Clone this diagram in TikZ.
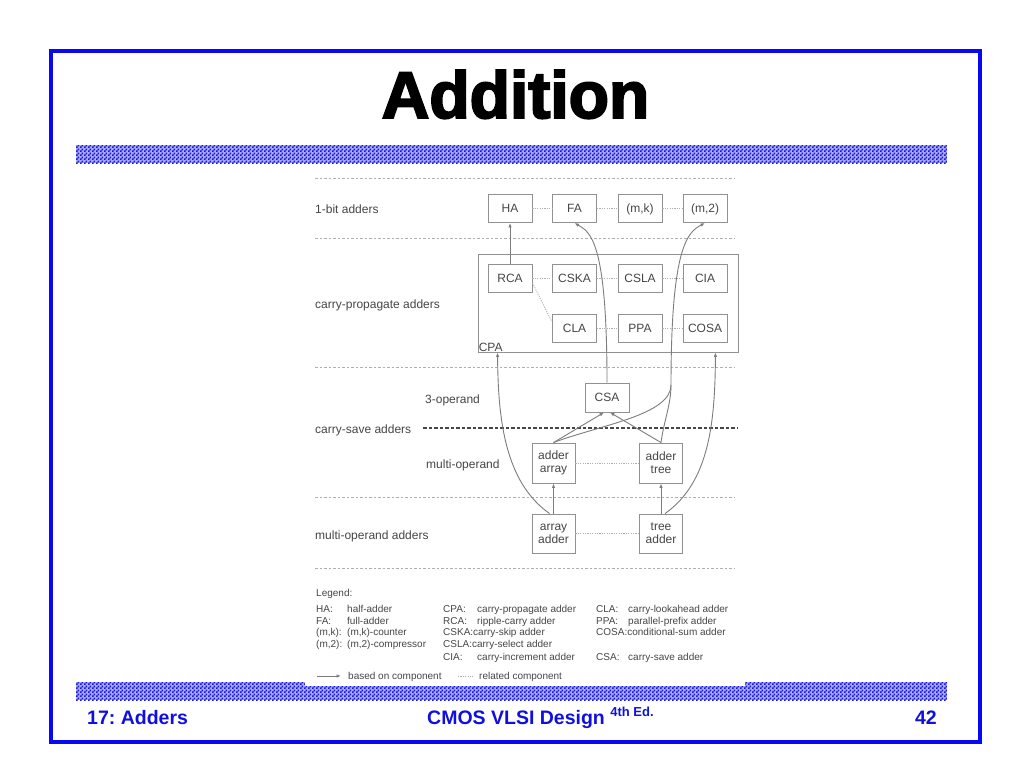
\documentclass[tikz,border=0pt]{standalone}
\usepackage{fontspec}
\setmainfont{Liberation Sans}
\newfontfamily\titlefont[FakeBold=3]{Liberation Sans Bold}
\usetikzlibrary{arrows.meta,patterns}
\frenchspacing
\definecolor{slideblue}{RGB}{8,8,245}
\definecolor{barblue}{RGB}{20,20,230}
\definecolor{barback}{RGB}{170,170,245}
\definecolor{footblue}{RGB}{15,15,225}
\definecolor{txtgray}{RGB}{70,70,70}
\definecolor{boxgray}{RGB}{145,145,145}
\definecolor{linegray}{RGB}{125,125,125}
\definecolor{relgray}{RGB}{175,175,175}
\definecolor{sepgray}{RGB}{175,175,175}
\pgfdeclarepatternformonly{finecheck}{\pgfpointorigin}{\pgfqpoint{4pt}{4pt}}{\pgfqpoint{4pt}{4pt}}%
{\pgfpathrectangle{\pgfpointorigin}{\pgfqpoint{2pt}{2pt}}%
 \pgfpathrectangle{\pgfqpoint{2pt}{2pt}}{\pgfqpoint{2pt}{2pt}}%
 \pgfusepath{fill}}
\tikzset{
  boxbase/.style={draw=boxgray, line width=0.9pt, fill=white, inner sep=0pt, align=center,
    text=txtgray, font=\fontsize{12}{13}\selectfont},
  box/.style={boxbase, minimum width=44pt, minimum height=28pt, text height=8.6pt, text depth=0pt},
  tallbox/.style={boxbase, minimum width=43pt, minimum height=40pt},
  lbl/.style={anchor=base west, inner sep=0pt, text=txtgray, font=\fontsize{12}{13}\selectfont},
  leg/.style={anchor=base west, inner sep=0pt, text=txtgray, font=\fontsize{10}{11}\selectfont},
  based/.style={draw=linegray, line width=0.9pt, -{Latex[length=4.5pt,width=3.5pt]}},
  plainline/.style={draw=linegray, line width=0.9pt},
  rel/.style={draw=relgray, line width=0.8pt, dash pattern=on 1.2pt off 1.2pt},
  sep/.style={draw=sepgray, line width=0.8pt, dash pattern=on 2.5pt off 2pt},
  thicksep/.style={draw=txtgray, line width=1.6pt, dash pattern=on 3.5pt off 2pt},
  barfill/.style={fill=barback},
  bar/.style={pattern=finecheck, pattern color=barblue},
  foot/.style={inner sep=0pt, text=footblue, font=\fontsize{19.5}{20}\selectfont\bfseries},
}
\begin{document}
\begin{tikzpicture}[x=1pt,y=-1pt]
\useasboundingbox (0,0) rectangle (1024,768);
\fill[white] (0,0) rectangle (1024,768);
% slide frame
\draw[slideblue, line width=4.5pt] (51,51) rectangle (980,742);
\node[anchor=base, inner sep=0pt, font=\fontsize{66}{70}\titlefont] (title) at (515.5,118) {Addition};
\fill[barfill] (76,145) rectangle (947,163);
\fill[bar] (76,145) rectangle (947,163);
\fill[barfill] (76,682) rectangle (947,700);
\fill[bar] (76,682) rectangle (947,700);
% figure background
\fill[white] (305,168) rectangle (745,686);
% separators
\draw[sep] (315,178) -- (735,178);
\draw[sep] (315,238) -- (735,238);
\draw[sep] (315,367.5) -- (735,367.5);
\draw[sep] (315,497) -- (735,497);
\draw[sep] (315,568) -- (735,568);
\draw[thicksep] (423,428) -- (737,428);
% row labels
\node[lbl] (l1) at (315,213.3) {1-bit adders};
\node[lbl] (l2) at (315,308.3) {carry-propagate adders};
\node[lbl] (l3) at (425,403.3) {3-operand};
\node[lbl] (l4) at (315,433.3) {carry-save adders};
\node[lbl] (l5) at (426,468.3) {multi-operand};
\node[lbl] (l6) at (315,539.3) {multi-operand adders};
% CPA box
\node[draw=boxgray, line width=0.9pt, minimum width=260pt, minimum height=98pt, inner sep=0pt] (cpa) at (608,303) {};
\node[anchor=south west, inner sep=1pt, text=txtgray, font=\fontsize{12}{13}\selectfont] (cpalbl) at (cpa.south west) {CPA};
% boxes
\node[box] (HA) at (510,208.5) {HA};
\node[box] (FA) at (574.5,208.5) {FA};
\node[box] (mk) at (640,208.5) {(m,k)};
\node[box] (m2) at (705,208.5) {(m,2)};
\node[box] (RCA) at (510,278.5) {RCA};
\node[box] (CSKA) at (574.5,278.5) {CSKA};
\node[box] (CSLA) at (640,278.5) {CSLA};
\node[box] (CIA) at (705,278.5) {CIA};
\node[box] (CLA) at (574.5,328.5) {CLA};
\node[box] (PPA) at (640,328.5) {PPA};
\node[box] (COSA) at (705,328.5) {COSA};
\node[box, minimum height=29pt] (CSA) at (607,397.5) {CSA};
\node[tallbox] (adderarray) at (553.5,463) {adder\\array};
\node[tallbox] (addertree) at (661,463) {adder\\tree};
\node[tallbox, minimum height=39pt] (arrayadder) at (553.5,533.5) {array\\adder};
\node[tallbox, minimum height=39pt] (treeadder) at (661,533.5) {tree\\adder};
% related components
\draw[rel] (HA) -- (FA);
\draw[rel] (FA) -- (mk);
\draw[rel] (mk) -- (m2);
\draw[rel] (RCA) -- (CSKA);
\draw[rel] (CSKA) -- (CSLA);
\draw[rel] (CSLA) -- (CIA);
\draw[rel] (CLA) -- (PPA);
\draw[rel] (PPA) -- (COSA);
\draw[rel] ([yshift=-4.5pt]RCA.east) -- ([yshift=6.5pt]CLA.west);
\draw[rel] (adderarray) -- (addertree);
\draw[rel] (arrayadder) -- (treeadder);
% based-on arrows
\draw[based] (RCA) -- (HA);
\draw[based] (arrayadder) -- (adderarray);
\draw[based] (treeadder) -- (addertree);
\draw[based] (adderarray.north) -- ([xshift=-3pt]CSA.south);
\draw[based] (addertree.north) -- ([xshift=3pt]CSA.south);
\draw[based] (CSA.north) .. controls (607,240) and (590,232) .. (FA.south);
\coordinate (m2join) at (671,385);
\draw[plainline] (adderarray.north) .. controls (600,425) and (671,415) .. (m2join);
\draw[plainline] (addertree.north) .. controls (664,420) and (671,405) .. (m2join);
\draw[based] (m2join) .. controls (671,245) and (688,232) .. (m2.south);
\draw[based] ([xshift=-4pt]arrayadder.north) .. controls (505,482) and (498,420) .. ([xshift=20pt]cpa.south west);
\draw[based] ([xshift=4pt]treeadder.north) .. controls (710,482) and (715,420) .. ([xshift=-23pt]cpa.south east);
% legend
\node[leg] (lg) at (316,596.5) {Legend:};
\node[leg] (k1) at (316,612.5) {HA:};
\node[leg] (d1) at (347,612.5) {half-adder};
\node[leg] (k2) at (316,624) {FA:};
\node[leg] (d2) at (347,624) {full-adder};
\node[leg] (k3) at (316,635.5) {(m,k):};
\node[leg] (d3) at (347,635.5) {(m,k)-counter};
\node[leg] (k4) at (316,647) {(m,2):};
\node[leg] (d4) at (347,647) {(m,2)-compressor};
\node[leg] (c1) at (443,612.5) {CPA:};
\node[leg] (e1) at (477,612.5) {carry-propagate adder};
\node[leg] (c2) at (443,624) {RCA:};
\node[leg] (e2) at (477,624) {ripple-carry adder};
\node[leg] (c3) at (443,635.5) {CSKA:carry-skip adder};
\node[leg] (c4) at (443,647) {CSLA:carry-select adder};
\node[leg] (c5) at (443,660.5) {CIA:};
\node[leg] (e5) at (477,660.5) {carry-increment adder};
\node[leg] (f1) at (596,612.5) {CLA:};
\node[leg] (g1) at (628,612.5) {carry-lookahead adder};
\node[leg] (f2) at (596,624) {PPA:};
\node[leg] (g2) at (628,624) {parallel-prefix adder};
\node[leg] (f3) at (596,635.5) {COSA:conditional-sum adder};
\node[leg] (f5) at (596,660.5) {CSA:};
\node[leg] (g5) at (628,660.5) {carry-save adder};
\coordinate (la1) at (317,676);
\coordinate (la2) at (341,676);
\draw[based] (la1) -- (la2);
\node[leg] (lb) at (348,679.5) {based on component};
\coordinate (lr1) at (458,676);
\coordinate (lr2) at (473,676);
\draw[rel] (lr1) -- (lr2);
\node[leg] (lc) at (479,679.5) {related component};
% footer
\node[foot, anchor=base west] (f17) at (87,724) {17: Adders};
\node[foot, anchor=base west] (fcmos) at (427,724) {CMOS VLSI Design \raisebox{7.5pt}{\fontsize{13}{13}\selectfont 4th Ed.}};
\node[foot, anchor=base east] (fnum) at (937,724) {42};
\end{tikzpicture}
\end{document}
